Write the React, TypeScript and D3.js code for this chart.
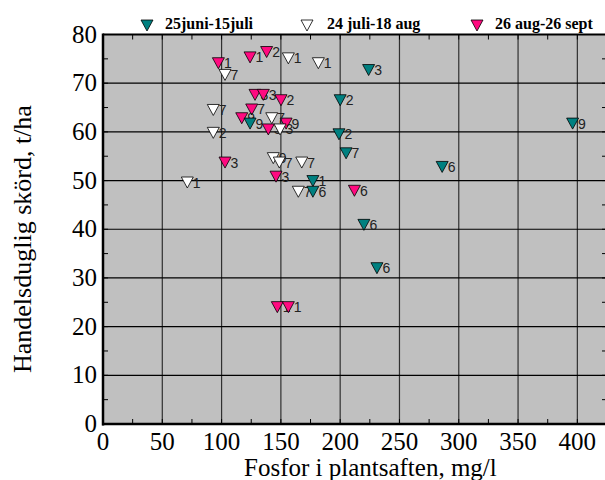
import React from "react";
import * as d3 from "d3";

// Series: 25juni-15juli (teal)
const tealPoints = [
  { x: 224, y: 72.7, l: "3" },
  { x: 200, y: 66.5, l: "2" },
  { x: 199, y: 59.5, l: "2" },
  { x: 205, y: 55.6, l: "7" },
  { x: 124, y: 61.7, l: "9" },
  { x: 396, y: 61.7, l: "9" },
  { x: 286, y: 52.8, l: "6" },
  { x: 177, y: 49.9, l: "1" },
  { x: 177, y: 47.7, l: "6" },
  { x: 220, y: 40.9, l: "6" },
  { x: 231, y: 32.0, l: "6" },
];

// Series: 24 juli-18 aug (white)
const whitePoints = [
  { x: 156.3, y: 75.1, l: "1" },
  { x: 181.6, y: 74.1, l: "1" },
  { x: 102.9, y: 71.7, l: "7" },
  { x: 93.0, y: 64.5, l: "7" },
  { x: 142.3, y: 62.8, l: "7" },
  { x: 149.3, y: 60.5, l: "3" },
  { x: 93.0, y: 59.8, l: "2" },
  { x: 143.6, y: 54.6, l: "9" },
  { x: 148.7, y: 53.7, l: "7" },
  { x: 167.6, y: 53.7, l: "7" },
  { x: 164.7, y: 47.7, l: "7" },
  { x: 71.1, y: 49.6, l: "1" },
];

// Series: 26 aug-26 sept (magenta)
const magentaPoints = [
  { x: 97.3, y: 74.1, l: "1" },
  { x: 124, y: 75.3, l: "1" },
  { x: 138, y: 76.4, l: "2" },
  { x: 128.2, y: 67.6, l: "3" },
  { x: 135.2, y: 67.6, l: "3" },
  { x: 150.1, y: 66.5, l: "2" },
  { x: 125.4, y: 64.6, l: "7" },
  { x: 117, y: 62.8, l: "9" },
  { x: 139.4, y: 60.5, l: "3" },
  { x: 154.4, y: 61.7, l: "9" },
  { x: 102.9, y: 53.7, l: "3" },
  { x: 145.9, y: 50.8, l: "3" },
  { x: 212, y: 47.9, l: "6" },
  { x: 147, y: 24.0, l: "1" },
  { x: 156.3, y: 24.0, l: "1" },
];

const xTicks = [0, 50, 100, 150, 200, 250, 300, 350, 400];
const yTicks = [0, 10, 20, 30, 40, 50, 60, 70, 80];
const legendLabels = ["25juni-15juli", "24 juli-18 aug", "26 aug-26 sept"];
const seriesColors = ["#008080", "#ffffff", "#ff0a80"];

const W = 605;
const H = 480;
const left = 103;
const bottom = 424;
const top = 34.5;
const right = 607;
const serif = "'Liberation Serif', 'Times New Roman', serif";

function tri(cx: number, cy: number) {
  const w = 6;
  const h = 5.5;
  return `M${cx - w},${cy - h}L${cx + w},${cy - h}L${cx},${cy + h}Z`;
}

export default function App() {
  const x = d3.scaleLinear().domain([0, 425]).range([left, right]);
  const y = d3.scaleLinear().domain([0, 80]).range([bottom, top]);
  const xMinor = d3.range(0, 426, 25);
  const yMinor = d3.range(0, 81, 5);

  const series = [
    { pts: magentaPoints, color: seriesColors[2] },
    { pts: whitePoints, color: seriesColors[1] },
    { pts: tealPoints, color: seriesColors[0] },
  ];

  const legendX = [147, 307, 477];
  const legendTextX = [165, 327, 495];

  return (
    <svg
      width={W}
      height={H}
      style={{ position: "absolute", left: 0, top: 0, background: "#fff" }}
    >
      <rect x={left} y={top} width={right - left} height={bottom - top} fill="#c0c0c0" />
      {xTicks.slice(1).map((t) => (
        <line key={"vx" + t} x1={x(t)} x2={x(t)} y1={top} y2={bottom} stroke="#303030" strokeWidth={1.2} />
      ))}
      {yTicks.slice(1).map((t) => (
        <line key={"hy" + t} x1={left} x2={right} y1={y(t)} y2={y(t)} stroke="#000" strokeWidth={1.2} />
      ))}
      {xMinor.map((t) => (
        <g key={"mx" + t}>
          <line x1={x(t)} x2={x(t)} y1={bottom} y2={bottom - 5} stroke="#000" strokeWidth={1} />
          <line x1={x(t)} x2={x(t)} y1={top} y2={top + 5} stroke="#000" strokeWidth={1} />
        </g>
      ))}
      {yMinor.map((t) => (
        <g key={"my" + t}>
          <line x1={left} x2={left + 5} y1={y(t)} y2={y(t)} stroke="#000" strokeWidth={1} />
          <line x1={right - 5} x2={right} y1={y(t)} y2={y(t)} stroke="#000" strokeWidth={1} />
        </g>
      ))}
      <line x1={left} x2={right} y1={top} y2={top} stroke="#000" strokeWidth={2} />
      <line x1={left} x2={left} y1={top - 1} y2={bottom + 1.5} stroke="#000" strokeWidth={2.5} />
      <line x1={left - 1} x2={right} y1={bottom} y2={bottom} stroke="#000" strokeWidth={2.5} />

      {series.map((s, si) => (
        <g key={"s" + si}>
          {s.pts.map((p, i) => (
            <g key={i}>
              <path d={tri(x(p.x), y(p.y))} fill={s.color} stroke="#000" strokeWidth={0.8} />
              <text
                x={x(p.x) + 5.5}
                y={y(p.y) + 5}
                fontFamily="'Liberation Sans', Arial, sans-serif"
                fontSize={14}
                fill="#222"
              >
                {p.l}
              </text>
            </g>
          ))}
        </g>
      ))}

      {xTicks.map((t) => (
        <text key={"xt" + t} x={x(t)} y={450} textAnchor="middle" fontFamily={serif} fontSize={25} fill="#000">
          {t}
        </text>
      ))}
      {yTicks.map((t) => (
        <text key={"yt" + t} x={97} y={y(t) + 8} textAnchor="end" fontFamily={serif} fontSize={25} fill="#000">
          {t}
        </text>
      ))}

      <text x={244} y={476} fontFamily={serif} fontSize={25} fill="#000">
        Fosfor i plantsaften, mg/l
      </text>
      <text
        transform={`translate(31,373) rotate(-90)`}
        fontFamily={serif}
        fontSize={26}
        fill="#000"
      >
        Handelsduglig skörd, t/ha
      </text>

      {legendLabels.map((lab, i) => (
        <g key={"lg" + i}>
          <path d={tri(legendX[i], 25.5)} fill={seriesColors[i]} stroke="#000" strokeWidth={0.8} />
          <text x={legendTextX[i]} y={29} fontFamily={serif} fontWeight="bold" fontSize={16} fill="#000">
            {lab}
          </text>
        </g>
      ))}
    </svg>
  );
}
